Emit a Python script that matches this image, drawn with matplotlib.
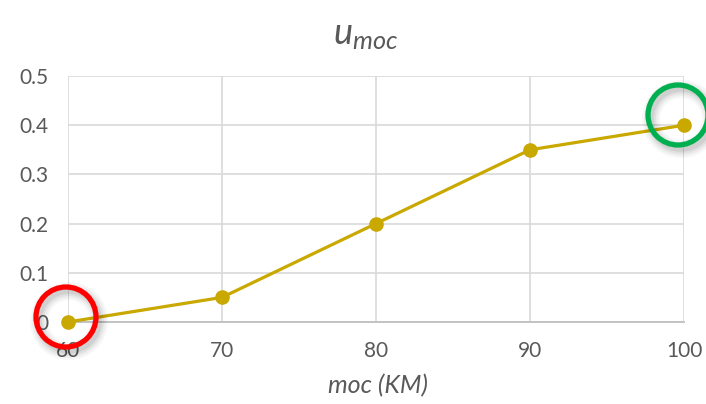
import matplotlib
matplotlib.use("Agg")
import matplotlib.pyplot as plt
from matplotlib.patches import Circle

x_vals = [60, 70, 80, 90, 100]
u_vals = [0.0, 0.05, 0.2, 0.35, 0.4]
y_ticks = [0, 0.1, 0.2, 0.3, 0.4, 0.5]
y_labels = ["0", "0.1", "0.2", "0.3", "0.4", "0.5"]

plt.rcParams["font.family"] = ["Lato", "DejaVu Sans"]
plt.rcParams["mathtext.fontset"] = "custom"
plt.rcParams["mathtext.it"] = "Lato:italic"
plt.rcParams["mathtext.rm"] = "Lato"

W, H = 706, 404
fig = plt.figure(figsize=(W / 100, H / 100), dpi=100)
ax = fig.add_axes([68 / W, 1 - 322 / H, (684 - 68) / W, (322 - 76) / H])

line_color = "#C9A800"
ax.plot(x_vals, u_vals, color=line_color, lw=2.3, marker="o", ms=9.5,
        clip_on=False, zorder=3)

ax.set_xlim(60, 100)
ax.set_ylim(0, 0.5)
ax.set_xticks(x_vals)
ax.set_yticks(y_ticks)
ax.set_yticklabels(y_labels)
ax.grid(True, color="#D9D9D9", lw=1.2)
ax.set_axisbelow(True)
for s in ["top", "right", "left"]:
    ax.spines[s].set_visible(False)
ax.spines["bottom"].set_color("#BFBFBF")
ax.spines["bottom"].set_linewidth(1.3)
ax.tick_params(length=0, labelsize=15, labelcolor="#595959")
ax.tick_params(axis="x", pad=14)
ax.tick_params(axis="y", pad=14)

fig.text(366 / W, 1 - 35 / H, r"$u_{moc}$", ha="center",
         va="center", fontsize=26, color="#595959")
fig.text(378 / W, 1 - 386 / H, "moc (KM)", ha="center", va="center",
         fontsize=18, style="italic", color="#595959")

# highlight circles with soft shadows (figure pixel coords)
def ring(cx, cy, r, color):
    for i, a in enumerate([0.07, 0.05, 0.04, 0.03]):
        fig.patches.append(Circle((cx + 3, H - cy - 4), r, transform=None,
                                  fill=False, ec="black", lw=4 + i * 3,
                                  alpha=a, zorder=4))
    fig.patches.append(Circle((cx, H - cy), r, transform=None, fill=False,
                              ec=color, lw=3.8, zorder=5))

ring(66, 317, 30, "#FF0000")
ring(678, 115, 30, "#00B050")

fig.savefig("out.png", dpi=100)
